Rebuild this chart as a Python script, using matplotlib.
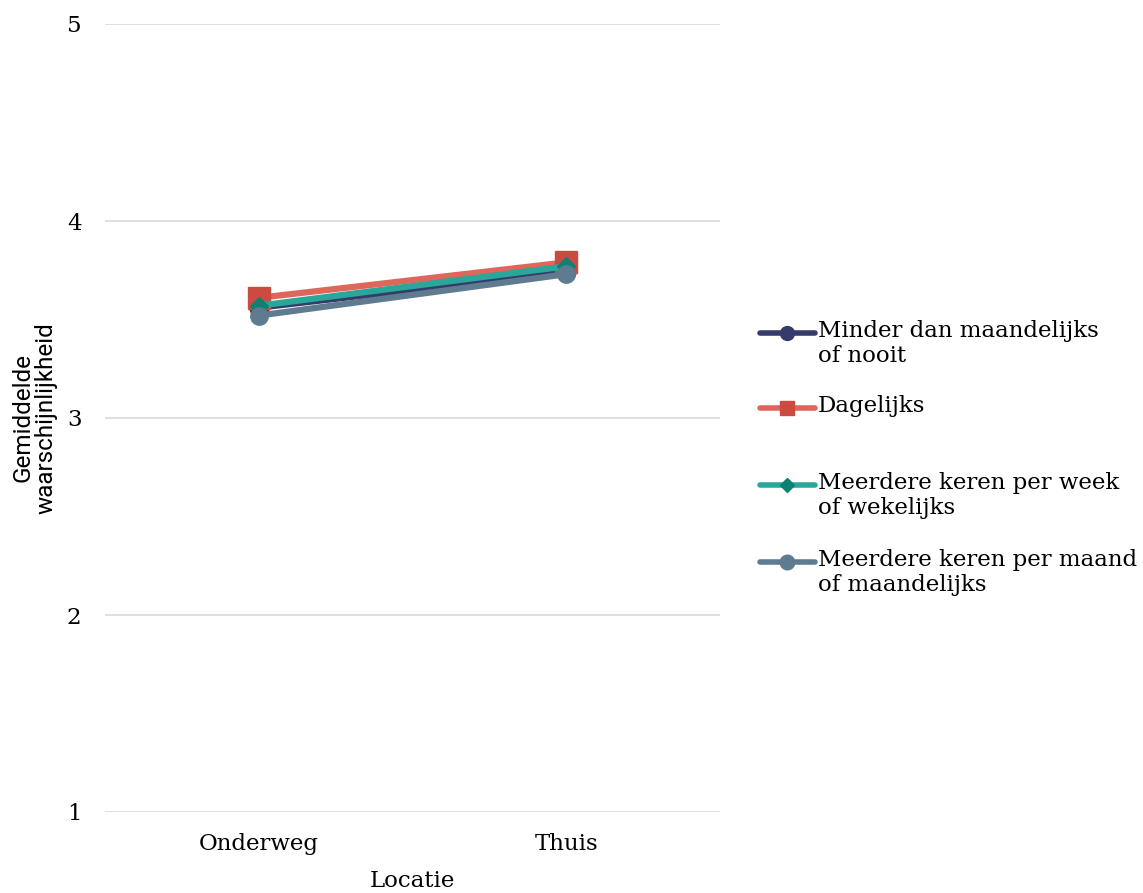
import matplotlib
matplotlib.use("Agg")
import matplotlib.pyplot as plt
from matplotlib.lines import Line2D

categories = ["Onderweg", "Thuis"]
series_names = ["Minder dan maandelijks\nof nooit", "Dagelijks",
                "Meerdere keren per week\nof wekelijks", "Meerdere keren per maand\nof maandelijks"]
minder = [3.56, 3.74]
dagelijks = [3.61, 3.79]
week = [3.57, 3.77]
maand = [3.52, 3.73]
yticks = [1, 2, 3, 4, 5]

serif = "DejaVu Serif"
W, H = 1143, 893

fig = plt.figure(figsize=(W/100, H/100), dpi=100)
ax = fig.add_axes([105/W, 1-812/H, (720-105)/W, (812-24)/H])

styles = [
    (minder, "#363b6b", "#363b6b", "o", 13.5, 10),
    (dagelijks, "#e0655a", "#cc4b41", "s", 16, 10.5),
    (week, "#2aa79b", "#0d8272", "D", 9.5, 7),
    (maand, "#5e7b90", "#5e7b90", "o", 12.5, 10.5),
]
x = list(range(len(categories)))
for (vals, lc, mc, mk, ms, lms), name in zip(styles, series_names):
    ax.plot(x, vals, color=lc, lw=4.5, marker=mk, markersize=ms,
            markerfacecolor=mc, markeredgecolor=mc, label=name, clip_on=False)

ax.set_xlim(-0.5, 1.5)
ax.set_ylim(1, 5)
ax.set_xticks(x)
ax.set_xticklabels(categories, fontfamily=serif, fontsize=16.5)
ax.set_yticks(yticks)
ax.set_yticklabels([str(t) for t in yticks], fontfamily=serif, fontsize=16.5)
ax.grid(axis="y", color="#d9d9d9", lw=1.2)
ax.set_axisbelow(True)
for s in ax.spines.values():
    s.set_visible(False)
ax.tick_params(axis="y", length=0, pad=17)
ax.tick_params(axis="x", length=0, pad=15)
ax.set_xlabel("Locatie", fontfamily=serif, fontsize=16.5, labelpad=11)
ax.set_ylabel("Gemiddelde\nwaarschijnlijkheid", fontfamily="Roboto", fontsize=17.5,
              labelpad=7, linespacing=1.0)

# legend (manual, to match the reference slot layout)
slot_centers = [333, 408, 485, 562]
for (vals, lc, mc, mk, ms, lms), name, yc in zip(styles, series_names, slot_centers):
    yf = 1 - yc / H
    ln = Line2D([760/W, 787/W, 815/W], [yf, yf, yf], transform=fig.transFigure,
                color=lc, lw=4, marker=mk, markersize=lms, markevery=[1],
                markerfacecolor=mc, markeredgecolor=mc, solid_capstyle="round")
    fig.add_artist(ln)
    fig.text(818/W, 1 - (yc - 13)/H, name, fontfamily=serif, fontsize=16.5,
             va="top", ha="left", linespacing=1.17)

fig.savefig("out.png", dpi=100)
